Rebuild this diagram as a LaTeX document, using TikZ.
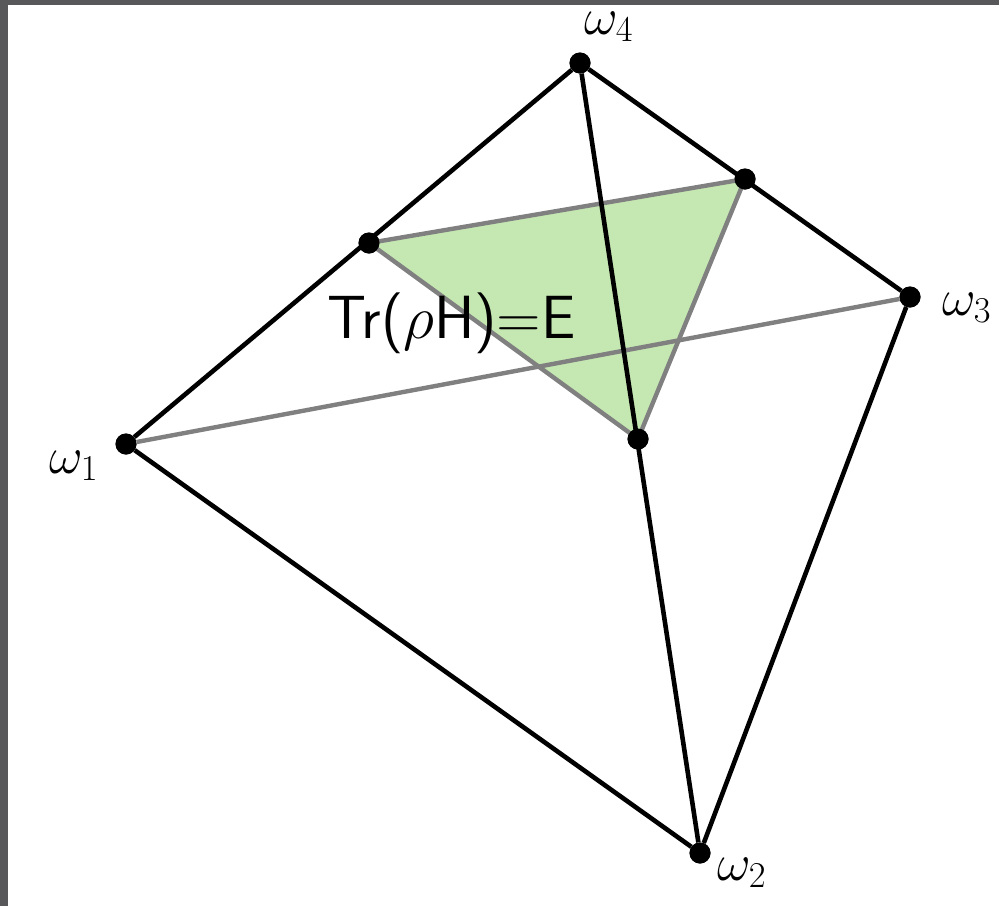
\RequirePackage{fix-cm}
\documentclass[tikz,border=0pt]{standalone}
\definecolor{bgdark}{RGB}{88,88,90}
\definecolor{facegreen}{RGB}{197,232,178}
\definecolor{edgegray}{RGB}{128,128,128}
\tikzset{
  dot/.style={circle,fill=black,inner sep=0pt,minimum size=21pt},
  edge/.style={draw=black,line width=4.6pt},
  grayedge/.style={draw=edgegray,line width=4.4pt},
  lbl/.style={inner sep=0pt,font=\fontsize{52}{56}\selectfont}
}
\begin{document}
\begin{tikzpicture}[x=1pt,y=-1pt]
\useasboundingbox (0,0) rectangle (999,906);
\fill[bgdark] (0,0) rectangle (999,5);
\fill[bgdark] (0,0) rectangle (8,906);
% vertices
\node[dot] (w1) at (126,444) {};
\node[dot] (w2) at (700,853) {};
\node[dot] (w3) at (910,297) {};
\node[dot] (w4) at (580,63) {};
\node[dot] (p14) at (369,243) {};
\node[dot] (p34) at (745,179) {};
\node[dot] (p24) at (638,439) {};
% green section
\fill[facegreen] (p14.center) -- (p34.center) -- (p24.center) -- cycle;
\draw[grayedge,line join=round] (p14.center) -- (p34.center) -- (p24.center) -- cycle;
\draw[grayedge] (w1) -- (w3);
% black edges
\draw[edge] (w1) -- (w4);
\draw[edge] (w4) -- (w3);
\draw[edge] (w3) -- (w2);
\draw[edge] (w2) -- (w1);
\draw[edge] (w4) -- (w2);
% redraw dots on top
\foreach \n in {w1,w2,w3,w4,p14,p34,p24} \fill (\n.center) circle (10.5pt);
% labels
\node[lbl,anchor=base west] (l4) at (584,34) {$\omega_4$};
\node[lbl,anchor=base west] (l3) at (942,315) {$\omega_3$};
\node[lbl,anchor=base west] (l1) at (49,473) {$\omega_1$};
\node[lbl,anchor=base west] (l2) at (717,880) {$\omega_2$};
\node[inner sep=0pt,anchor=base west,font=\fontsize{61}{64}\selectfont\sffamily] (tr) at (327,338) {Tr($\rho$H)=E};
\end{tikzpicture}
\end{document}
